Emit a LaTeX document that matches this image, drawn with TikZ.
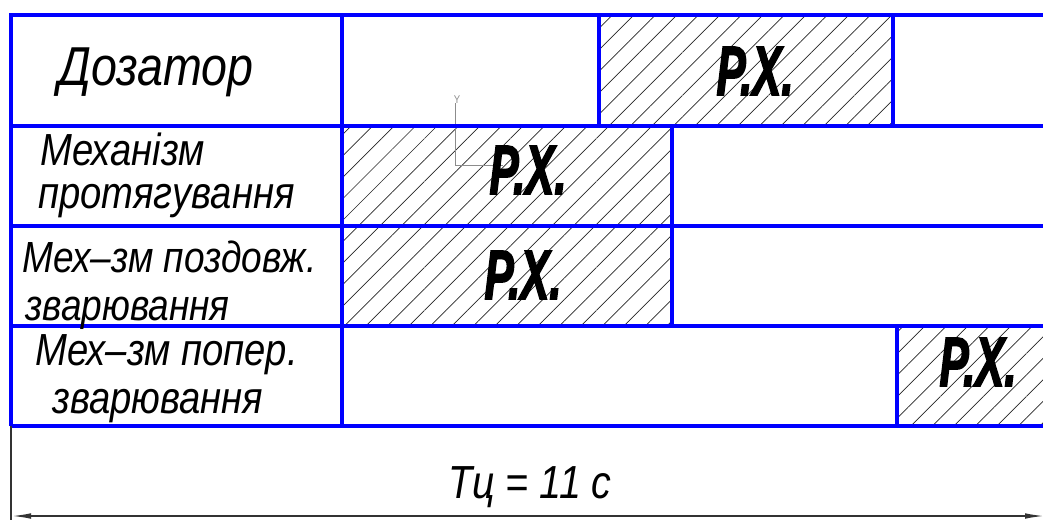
\documentclass[tikz,border=0pt]{standalone}
\usepackage{fontspec}
\newfontfamily\gost[FakeStretch=0.85]{Liberation Sans}
\newfontfamily\gostheavy[FakeStretch=0.62, FakeBold=2]{Liberation Sans}
\usetikzlibrary{arrows.meta, patterns.meta}

\begin{document}
\begin{tikzpicture}[
  x=0.25mm, y=-0.25mm,
  grid/.style={draw=blue, line width=0.8mm},
  work/.style={pattern={Lines[angle=45, distance=3.8mm, line width=0.5pt]}, pattern color=black!85},
  rowtext/.style={anchor=base west, inner sep=0pt, font=\gost\itshape\fontsize{32}{34}\selectfont},
  rx/.style={inner sep=0pt, font=\gostheavy\bfseries\itshape\fontsize{50}{52}\selectfont},
  dim/.style={draw=black!80, line width=0.45mm},
  dimarrow/.style={dim, {Latex[length=5mm, width=1.4mm]}-{Latex[length=5mm, width=1.4mm]}},
  ucs/.style={draw=black!45, line width=0.5pt}
]
\useasboundingbox (0,0) rectangle (1043,520);

\fill[work] (599,15) rectangle (893,126);
\fill[work] (342,126) rectangle (672,326);
\fill[work] (897,326) rectangle (1060,426);

\draw[ucs] (455,103) -- (455,165) -- (503,165);
\node[text=black!45, font=\gost\fontsize{8}{8}\selectfont, inner sep=0pt] (ucsy) at (457,100) {Y};

\draw[grid] (11,426) -- (11,15) -- (1060,15);
\foreach \y in {126,226,326,426}
  \draw[grid] (11,\y) -- (1060,\y);
\draw[grid] (342,15) -- (342,426);
\draw[grid] (599,15) -- (599,126);
\draw[grid] (893,15) -- (893,126);
\draw[grid] (672,126) -- (672,326);
\draw[grid] (897,326) -- (897,426);

\node[rowtext, font=\gost\itshape\fontsize{39}{41}\selectfont] (dozator) at (58,85) {Дозатор};
\node[rowtext] (mech1) at (40,165) {Механізм};
\node[rowtext] (mech2) at (38,208) {протягування};
\node[rowtext, font=\gost\itshape\fontsize{31}{33}\selectfont] (long1) at (22,272) {Мех–зм поздовж.};
\node[rowtext, font=\gost\itshape\fontsize{31}{33}\selectfont] (long2) at (25,320) {зварювання};
\node[rowtext] (cross1) at (35,365) {Мех–зм попер.};
\node[rowtext] (cross2) at (52,413) {зварювання};

\node[rx] (rx1) at (755,71) {Р.Х.};
\node[rx] (rx2) at (528,170) {Р.Х.};
\node[rx] (rx3) at (523,275) {Р.Х.};
\node[rx] (rx4) at (978,362) {Р.Х.};

\draw[dim] (11,426) -- (11,520);
\coordinate (diml) at (11,516);
\coordinate (dimr) at (1045,516);
\draw[dimarrow] (diml) -- (dimr);
\node[font=\gost\itshape\fontsize{33}{35}\selectfont, inner sep=0pt] (cycle) at (530,487) {Тц = 11 с};
\end{tikzpicture}
\end{document}
